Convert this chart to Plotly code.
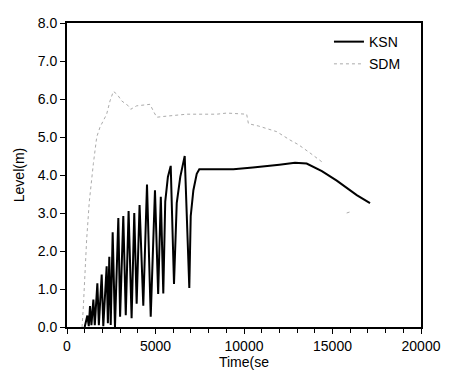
import plotly.graph_objects as go

# KSN (solid black)
ksn_t = [1000, 1150, 1230, 1300, 1380, 1490, 1570, 1715, 1800, 1960, 2050, 2240, 2310, 2390, 2470,
         2580, 2710, 2900, 3000, 3180, 3320, 3480, 3650, 3800, 3935, 4100, 4310, 4520, 4730,
         4970, 5150, 5300, 5440, 5550, 5700, 5860, 6045, 6200, 6400, 6650, 6910, 6990, 7140,
         7330, 7475, 8500, 9400, 10500, 11470, 12000, 12880, 13540, 14400, 15240, 16370, 17120]
ksn_y = [0, 0.3, 0.02, 0.55, 0.05, 0.72, 0.05, 1.15, 0.05, 1.38, 0.02, 1.6, 0.1, 1.85, 0.05,
         2.49, 0, 2.87, 0.27, 2.92, 0.31, 3.05, 0.23, 3.0, 0.61, 3.21, 0.56, 3.75, 0.27,
         3.6, 0.87, 3.43, 0.88, 3.3, 3.95, 4.24, 1.13, 3.26, 3.95, 4.5, 1.03, 2.92, 3.6,
         4.03, 4.15, 4.16, 4.15, 4.2, 4.24, 4.27, 4.32, 4.3, 4.1, 3.85, 3.47, 3.26]

# SDM (faint dotted grey)
sdm_t = [850, 920, 1110, 1260, 1490, 1680, 1865, 2050, 2240, 2430, 2620, 2840, 3090, 3465, 3600,
         3935, 4400, 4690, 4915, 5070, 5440, 6760, 8460, 9020, 10150, 10250, 10810, 11850, 12600,
         13070, 13730, 14390, None, 15800, 16000]
sdm_y = [0, 0.5, 2.3, 3.3, 4.3, 5.0, 5.26, 5.44, 5.6, 5.95, 6.2, 6.12, 5.95, 5.82, 5.73,
         5.82, 5.85, 5.86, 5.65, 5.52, 5.54, 5.6, 5.6, 5.63, 5.6, 5.35, 5.29, 5.14, 4.92,
         4.8, 4.58, 4.35, None, 3.0, 3.03]

x_ticks = [0, 5000, 10000, 15000, 20000]
y_ticks = [0, 1, 2, 3, 4, 5, 6, 7, 8]

font = "Liberation Sans, Arial, sans-serif"

fig = go.Figure()
fig.add_trace(go.Scatter(x=ksn_t, y=ksn_y, mode="lines", name="KSN",
                         line=dict(color="black", width=2), legendgroup="a"))
fig.add_trace(go.Scatter(x=sdm_t, y=sdm_y, mode="lines", name="SDM",
                         line=dict(color="#ababab", width=1, dash="dot"), legendgroup="b",
                         connectgaps=False))

fig.update_layout(
    width=441, height=368,
    margin=dict(l=59, r=28, t=7, b=49),
    paper_bgcolor="white", plot_bgcolor="white",
    font=dict(family=font, size=14, color="black"),
    showlegend=True,
    legend=dict(x=0.74, y=0.99, xanchor="left", yanchor="top",
                bgcolor="rgba(0,0,0,0)", tracegroupgap=1,
                font=dict(size=14, family=font), traceorder="grouped"),
    xaxis=dict(range=[0, 20000], tickvals=x_ticks, ticktext=[str(v) for v in x_ticks],
               showgrid=False, zeroline=False, showline=True, linecolor="black", linewidth=2,
               mirror=True, ticks="outside", ticklen=5, tickcolor="black", tickwidth=1,
               minor=dict(dtick=1000, ticks="outside", ticklen=4, tickcolor="black"),
               title=dict(text="Time(se", standoff=3, font=dict(size=14)),
               tickfont=dict(size=14)),
    yaxis=dict(range=[0, 8], tickvals=y_ticks, ticktext=[f"{v:.1f}" for v in y_ticks],
               showgrid=False, zeroline=False, showline=True, linecolor="black", linewidth=2,
               mirror=True, ticks="outside", ticklen=5, tickcolor="black", tickwidth=1,
               title=dict(text="Level(m)", standoff=10, font=dict(size=14)),
               tickfont=dict(size=14)),
)

fig.write_html("out.html")
